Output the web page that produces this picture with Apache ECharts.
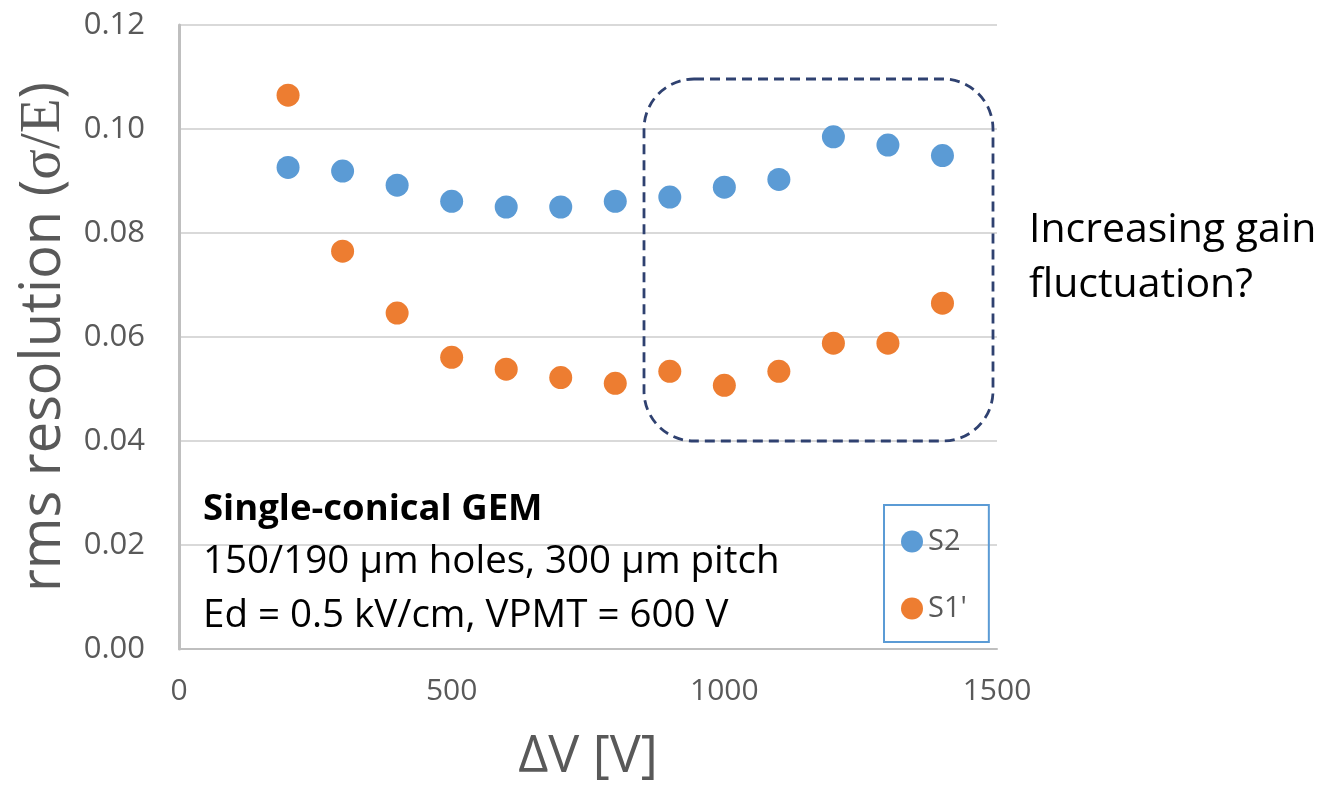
<!DOCTYPE html>
<html>
<head>
<meta charset="utf-8">
<script src="https://cdn.jsdelivr.net/npm/echarts@6/dist/echarts.min.js"></script>
<style>
html,body{margin:0;padding:0;background:#fff;}
#chart{width:1331px;height:791px;}
</style>
</head>
<body>
<div id="chart"></div>
<script>
const deltaV = [200, 300, 400, 500, 600, 700, 800, 900, 1000, 1100, 1200, 1300, 1400];
const s2Values = [0.0926, 0.0919, 0.0892, 0.0861, 0.0850, 0.0850, 0.0861, 0.0869, 0.0888, 0.0903, 0.0985, 0.0969, 0.0949];
const s1Values = [0.1065, 0.0765, 0.0646, 0.0561, 0.0538, 0.0522, 0.0511, 0.0534, 0.0507, 0.0534, 0.0588, 0.0588, 0.0665];
const seriesNames = ['S2', "S1'"];
const yAxisTitle = 'rms resolution (σ/E)';
const xAxisTitle = 'ΔV [V]';
const boxLines = ['Single-conical GEM', '150/190 µm holes, 300 µm pitch', 'Ed = 0.5 kV/cm, VPMT = 600 V'];
const noteLines = ['Increasing gain', 'fluctuation?'];

const FONT = '"Open Sans", sans-serif';
const chart = echarts.init(document.getElementById('chart'), null, {renderer: 'canvas'});

const zip = (xs, ys) => xs.map((x, i) => [x, ys[i]]);

chart.setOption({
  animation: false,
  backgroundColor: '#ffffff',
  grid: {left: 179, right: 334, top: 25, bottom: 142, containLabel: false},
  xAxis: {
    type: 'value', min: 0, max: 1500, interval: 500,
    name: xAxisTitle, nameLocation: 'middle', nameGap: 82,
    nameTextStyle: {fontFamily: FONT, fontSize: 52, color: '#595959'},
    axisLine: {show: true, lineStyle: {color: '#bfbfbf', width: 2}},
    axisTick: {show: false},
    splitLine: {show: false},
    axisLabel: {fontFamily: FONT, fontSize: 30, color: '#595959', margin: 27,
      formatter: v => String(v)}
  },
  yAxis: {
    type: 'value', min: 0, max: 0.12, interval: 0.02,
    name: '{a|rms resolution (}{b|σ/E}{a|)}',
    nameLocation: 'middle', nameGap: 104, nameRotate: 90,
    nameTextStyle: {
      rich: {
        a: {fontFamily: FONT, fontSize: 56, color: '#595959'},
        b: {fontFamily: '"Liberation Serif", serif', fontSize: 57, color: '#595959'}
      }
    },
    axisLine: {show: true, lineStyle: {color: '#bfbfbf', width: 3}},
    axisTick: {show: false},
    splitLine: {show: true, lineStyle: {color: '#d9d9d9', width: 2}},
    axisLabel: {fontFamily: FONT, fontSize: 31, color: '#595959', margin: 34,
      formatter: v => v.toFixed(2)}
  },
  legend: {
    orient: 'vertical', left: 884, top: 505,
    data: seriesNames,
    icon: 'circle', itemWidth: 22, itemHeight: 22, itemGap: 38,
    padding: [22, 22, 19, 17],
    borderColor: '#5b9bd5', borderWidth: 2,
    textStyle: {fontFamily: FONT, fontSize: 29, color: '#595959', lineHeight: 28}
  },
  series: [
    {name: seriesNames[0], type: 'scatter', data: zip(deltaV, s2Values), symbolSize: 23,
     itemStyle: {color: '#5b9bd5', opacity: 1}},
    {name: seriesNames[1], type: 'scatter', data: zip(deltaV, s1Values), symbolSize: 23,
     itemStyle: {color: '#ed7d31', opacity: 1}}
  ],
  graphic: [
    {type: 'rect', shape: {x: 644, y: 79, width: 349, height: 362, r: 50}, z: 10,
     style: {fill: 'none', stroke: '#2f4170', lineWidth: 2.8, lineDash: [10, 6]}},
    {type: 'text', left: 203, top: 514 - 23, z: 10,
     style: {text: boxLines[0], font: 'bold 36.5px "Open Sans"', fill: '#000'}},
    {type: 'text', left: 203, top: 568 - 25, z: 10,
     style: {text: boxLines[1], font: '38.5px "Open Sans"', fill: '#000'}},
    {type: 'text', left: 203, top: 622 - 25, z: 10,
     style: {text: boxLines[2], font: '38.5px "Open Sans"', fill: '#000'}},
    {type: 'text', left: 1029, top: 237 - 27, z: 10,
     style: {text: noteLines[0], font: '41px "Open Sans"', fill: '#000'}},
    {type: 'text', left: 1029, top: 292 - 27, z: 10,
     style: {text: noteLines[1], font: '41px "Open Sans"', fill: '#000'}}
  ]
});
</script>
</body>
</html>
